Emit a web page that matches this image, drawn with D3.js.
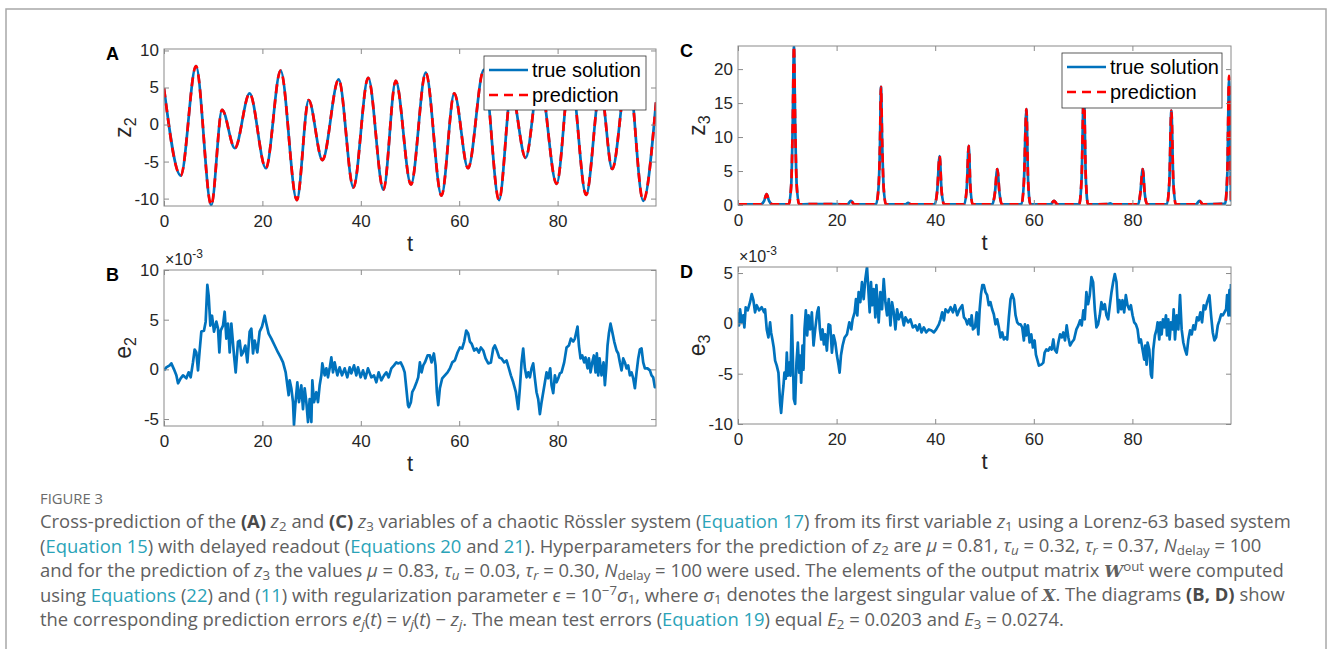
<!DOCTYPE html>
<html><head><meta charset="utf-8">
<script src="https://cdn.jsdelivr.net/npm/d3@7"></script>
<style>body{margin:0;background:#fff}svg{display:block}</style>
</head><body>
<svg id="c" width="1330" height="649"></svg>
<script>
// ---------- data ----------
const tTicks = [0, 20, 40, 60, 80];
const yTicksA = [-10, -5, 0, 5, 10];
const yTicksB = [-5, 0, 5, 10];
const yTicksC = [0, 5, 10, 15, 20];
const yTicksD = [-10, -5, 0, 5];
const legendLabels = ["true solution", "prediction"];

// z2 (panel A): [t, z2] at turning points
const z2True = [[0,4.9],[3.4,-6.9],[6.5,7.9],[9.6,-10.9],[11.8,2.0],[14.4,-3.2],[17.4,4.2],[20.7,-5.9],[23.7,7.3],[27.0,-10.2],[29.4,3.3],[32.2,-4.8],[35.5,6.1],[38.5,-8.5],[41.5,6.3],[44.6,-8.8],[47.1,5.9],[50.2,-8.1],[53.2,7.0],[56.4,-9.6],[59.0,4.2],[61.8,-5.9],[65.0,7.4],[68.1,-10.2],[70.6,4.5],[73.5,-4.5],[76.3,6.5],[79.8,-8.0],[82.6,7.2],[85.8,-9.5],[88.7,5.0],[91.1,-6.0],[94.3,7.6],[97.4,-10.3],[100,3.0]];
const z2Pred = z2True;

// z3 (panel C)
const z3True = [[0,0.1],[4.6,0.1],[5.3,0.6],[5.8,1.6],[6.3,0.6],[7.0,0.1],[10.3,0.1],[10.8,3.0],[11.1,12],[11.35,23.4],[11.6,12],[11.9,3.0],[12.4,0.1],[16.5,0.15],[22.2,0.1],[22.9,0.6],[23.6,0.1],[28.0,0.1],[28.5,2.5],[28.8,9],[29.0,17.4],[29.25,9],[29.55,2.5],[30.0,0.1],[34.0,0.1],[34.5,0.3],[35.0,0.1],[39.9,0.1],[40.4,2.0],[40.9,7.2],[41.3,2.0],[41.8,0.1],[45.9,0.1],[46.4,2.5],[46.8,8.7],[47.15,2.5],[47.6,0.1],[51.6,0.1],[52.1,1.7],[52.6,5.3],[53.05,1.7],[53.5,0.1],[57.5,0.1],[58.0,3.5],[58.5,14.1],[58.85,3.5],[59.3,0.1],[63.4,0.1],[64.1,0.6],[64.8,0.1],[69.2,0.1],[69.7,4.0],[70.15,17.0],[70.55,4.0],[71.0,0.1],[75.0,0.15],[75.5,0.25],[76.0,0.1],[81.2,0.1],[81.6,1.7],[82.1,5.3],[82.5,1.7],[83.0,0.1],[87.0,0.1],[87.5,3.5],[87.9,13.9],[88.3,3.5],[88.8,0.1],[92.9,0.1],[93.6,0.6],[94.3,0.1],[98.8,0.2],[99.25,4.5],[99.6,18.3],[99.8,12],[100,0.5]];
const z3Pred = [[0,0.1],[4.6,0.1],[5.3,0.6],[5.8,1.6],[6.3,0.6],[7.0,0.1],[10.3,0.1],[10.8,3.0],[11.1,12],[11.35,23.4],[11.6,12],[11.9,3.0],[12.4,0.1],[16.5,0.15],[22.2,0.1],[22.9,0.6],[23.6,0.1],[28.0,0.1],[28.5,2.5],[28.8,9],[29.0,17.4],[29.25,9],[29.55,2.5],[30.0,0.1],[34.0,0.1],[34.5,0.3],[35.0,0.1],[39.9,0.1],[40.4,2.0],[40.9,7.2],[41.3,2.0],[41.8,0.1],[45.9,0.1],[46.4,2.5],[46.8,8.7],[47.15,2.5],[47.6,0.1],[51.6,0.1],[52.1,1.7],[52.6,5.3],[53.05,1.7],[53.5,0.1],[57.5,0.1],[58.0,3.5],[58.5,14.1],[58.85,3.5],[59.3,0.1],[63.4,0.1],[64.1,0.6],[64.8,0.1],[69.2,0.1],[69.7,4.0],[70.15,17.0],[70.55,4.0],[71.0,0.1],[75.0,0.15],[75.5,0.25],[76.0,0.1],[81.2,0.1],[81.6,1.7],[82.1,5.3],[82.5,1.7],[83.0,0.1],[87.0,0.1],[87.5,3.5],[87.9,13.9],[88.3,3.5],[88.8,0.1],[92.9,0.1],[93.6,0.6],[94.3,0.1],[98.8,0.2],[99.25,4.5],[99.6,19.0],[99.8,12],[100,0.5]];

// e2 (panel B), units of 1e-3
const e2 = [[0,-0.1],[0.47,0.2],[1.15,0.4],[1.49,0.6],[2.03,0],[2.51,-0.6],[2.85,-1.4],[3.39,-0.9],[3.86,-0.6],[4.54,-0.9],[5.01,-0.3],[5.42,-0.8],[5.89,0.7],[6.23,2.0],[6.57,1.7],[6.91,-0.1],[7.25,1.9],[7.59,3.8],[8.13,3.9],[8.47,4.8],[8.81,8.5],[9.08,7.4],[9.42,4.4],[9.76,5.4],[10.16,3.8],[10.64,4.8],[10.98,4.1],[11.25,1.7],[11.52,3.9],[11.99,4.4],[12.33,5.8],[12.67,3.1],[13.01,4.6],[13.35,1.7],[13.69,4.6],[14.23,1.4],[14.57,-0.3],[15.04,2.8],[15.38,2.9],[15.72,1.4],[16.06,1.7],[16.53,2.4],[16.94,0.7],[17.41,3.8],[17.75,4.1],[18.09,1.6],[18.43,2.9],[18.97,1.7],[19.44,3.8],[19.92,4.3],[20.46,5.4],[20.8,4.6],[21.27,3.6],[21.82,3.1],[22.49,2.4],[23.17,1.7],[23.71,1.2],[24.19,0.7],[24.73,-0.3],[25.07,-1.6],[25.34,-2.6],[25.54,-1.1],[25.88,-1.9],[26.22,-3.3],[26.42,-5.6],[26.69,-3.6],[27.1,-1.3],[27.44,-3.3],[27.91,-1.6],[28.25,-4.0],[28.59,-1.9],[28.93,-3.3],[29.27,-5.3],[29.61,-3.0],[29.95,-5.3],[30.15,-1.1],[30.49,-3.3],[30.96,-2.3],[31.3,-3.3],[31.64,-1.6],[31.98,-0.6],[32.18,0.6],[32.66,-0.6],[32.99,0.1],[33.33,-0.8],[33.67,0.1],[34.01,1.2],[34.35,-0.3],[34.69,0.7],[35.23,-0.6],[35.7,0.2],[36.18,-0.6],[36.72,0.1],[37.26,-0.8],[37.74,0.2],[38.08,-0.4],[38.62,0.4],[39.09,-0.6],[39.43,0.2],[39.97,-0.8],[40.45,-0.1],[40.92,-0.9],[41.46,0.1],[42.14,-0.8],[42.68,-0.6],[43.16,-1.3],[43.63,-0.3],[44.17,-1.1],[44.72,-0.6],[45.19,-0.3],[45.66,-0.8],[46.21,0.1],[46.75,0.4],[47.22,0.7],[47.56,0.6],[48.1,0.7],[48.58,0.2],[48.92,-0.3],[49.25,-1.9],[49.59,-3.6],[49.77,-3.8],[50.18,-3.3],[50.45,-2.3],[50.86,-1.9],[51.33,-1.3],[51.67,-0.8],[52.01,0.7],[52.35,-0.3],[52.69,0.4],[53.03,0.7],[53.57,1.4],[54.04,1.4],[54.38,0.7],[54.85,1.6],[55.19,0.4],[55.46,-2.3],[55.74,-3.6],[56.07,-1.9],[56.55,-0.9],[57.09,-0.6],[57.63,-0.3],[58.11,0.1],[58.58,0.7],[59.12,0.9],[59.66,1.7],[60.14,2.2],[60.61,2.1],[61.02,2.8],[61.43,3.9],[61.83,3.6],[62.17,2.8],[62.51,2.6],[63.05,1.9],[63.53,2.1],[64.0,1.7],[64.41,2.2],[64.88,1.9],[65.36,1.1],[65.9,0.6],[66.44,0.7],[66.91,2.1],[67.25,2.4],[67.66,1.9],[68.13,1.2],[68.61,1.1],[69.15,0.7],[69.62,0.9],[70.1,0.1],[70.5,-0.6],[70.98,-1.3],[71.52,-2.3],[71.99,-4.0],[72.33,-1.9],[72.67,0.7],[73.01,2.1],[73.35,0.1],[73.69,-0.8],[74.03,-0.3],[74.37,-0.8],[74.7,0.1],[75.04,0.6],[75.38,-0.9],[75.72,-2.3],[76.06,-3.0],[76.4,-4.5],[76.74,-3.3],[77.08,-2.3],[77.42,-1.3],[77.75,-0.3],[78.09,-0.9],[78.5,0.1],[78.77,-1.6],[79.11,-2.4],[79.45,-0.6],[79.79,-1.3],[80.13,-0.9],[80.46,-0.4],[80.8,-0.3],[81.34,0.7],[81.82,2.2],[82.29,2.4],[82.7,3.1],[83.17,2.8],[83.51,3.1],[84.05,4.3],[84.33,2.4],[84.66,1.1],[85.0,1.4],[85.41,0.7],[85.68,1.2],[86.09,0.1],[86.36,1.1],[86.7,-0.3],[87.04,0.7],[87.37,1.4],[87.71,-0.3],[87.98,1.6],[88.26,-0.6],[88.53,1.1],[88.93,-0.6],[89.34,0.7],[89.61,-1.6],[89.88,0.1],[90.15,2.4],[90.42,3.6],[90.76,4.6],[91.1,3.8],[91.51,2.8],[91.98,1.9],[92.32,1.6],[92.66,0.7],[93.0,-0.1],[93.34,1.1],[93.68,0.7],[94.01,0.1],[94.35,0.4],[94.69,-0.6],[95.03,-0.3],[95.37,-0.9],[95.71,-1.9],[96.05,-0.3],[96.39,1.1],[96.72,2.0],[97.06,2.1],[97.4,0.7],[97.74,0.1],[98.28,0.1],[98.76,-0.1],[99.09,-0.6],[99.43,-0.8],[99.77,-1.8],[100,-1.8]];

// e3 (panel D), units of 1e-3
const e3 = [[0,1.1],[0.2,-0.2],[0.41,1.4],[0.75,0.1],[1.08,0.8],[1.29,-0.4],[1.56,1.6],[1.97,1.3],[2.44,2.1],[2.78,2.9],[3.12,2.3],[3.46,1.1],[3.8,1.8],[4.27,1.3],[4.81,1.6],[5.29,1.1],[5.49,1.4],[5.83,-0.6],[6.17,-1.4],[6.51,0.1],[6.71,-0.9],[6.98,-1.6],[7.25,-2.4],[7.53,-3.7],[7.86,-4.2],[8.2,-4.9],[8.54,-7.9],[8.75,-8.9],[9.02,-7.2],[9.22,-6.2],[9.42,-4.9],[9.69,-5.5],[9.9,-2.9],[10.1,-5.2],[10.37,-3.9],[10.64,-5.2],[10.92,0.8],[11.12,-3.2],[11.32,-7.5],[11.59,-8.0],[11.86,-3.9],[12.14,-1.9],[12.41,-4.9],[12.61,-3.2],[12.81,-5.9],[13.08,-2.2],[13.29,-4.6],[13.49,-0.6],[13.76,1.3],[14.03,-1.2],[14.31,0.8],[14.64,-0.6],[14.98,1.1],[15.32,-2.2],[15.66,-0.6],[16.07,1.1],[16.34,1.6],[16.61,-0.6],[16.88,-1.6],[17.15,-0.6],[17.42,-2.1],[17.69,-1.1],[18.03,-2.7],[18.37,-0.1],[18.71,-0.2],[19.05,-2.9],[19.39,-1.2],[19.73,-1.9],[20.07,-3.2],[20.41,-4.2],[20.61,-4.9],[20.88,-3.2],[21.22,-2.2],[21.63,-1.4],[22.1,-1.1],[22.58,0.1],[22.98,-0.6],[23.25,0.4],[23.66,1.1],[23.93,2.4],[24.2,0.8],[24.47,3.1],[24.81,2.1],[25.15,4.1],[25.49,2.4],[25.83,4.4],[26.17,5.6],[26.51,2.8],[26.71,1.1],[26.98,4.1],[27.19,1.8],[27.53,3.4],[27.86,0.6],[28.07,3.8],[28.34,1.8],[28.54,0.1],[28.88,3.1],[29.22,1.4],[29.56,4.4],[29.9,2.1],[30.24,0.8],[30.58,2.4],[30.92,-0.2],[31.25,2.1],[31.59,1.1],[31.93,-0.6],[32.27,1.4],[32.61,0.4],[33.15,1.1],[33.63,-0.2],[33.97,0.6],[34.51,0.1],[34.98,0.4],[35.46,-0.4],[36.0,-0.2],[36.41,-0.7],[36.81,-0.1],[37.22,-0.9],[37.69,-0.4],[38.17,-0.9],[38.71,-0.6],[39.25,-0.7],[39.73,-0.9],[40.2,-0.6],[40.75,-0.1],[41.08,0.4],[41.42,1.1],[41.76,0.3],[42.1,1.4],[42.64,1.1],[43.12,1.6],[43.59,1.1],[44.0,1.8],[44.47,0.8],[44.95,1.4],[45.49,1.8],[45.83,0.6],[46.17,0.4],[46.51,-0.1],[46.85,0.4],[47.19,-0.2],[47.39,0.8],[47.66,-0.6],[48.07,-0.4],[48.41,1.1],[48.75,-1.1],[49.02,1.4],[49.29,2.9],[49.56,3.8],[49.86,3.8],[50.2,3.1],[50.54,2.8],[50.87,1.8],[51.21,2.1],[51.55,1.4],[51.89,0.9],[52.23,-0.1],[52.57,0.4],[52.91,-0.4],[53.25,-1.4],[53.59,-0.9],[53.93,-1.6],[54.26,-1.4],[54.6,-1.6],[54.94,0.6],[55.28,2.4],[55.62,2.9],[55.96,2.4],[56.3,0.8],[56.64,0.1],[56.98,-0.1],[57.32,-0.1],[57.65,-0.4],[57.99,-1.7],[58.2,-0.1],[58.47,-1.2],[58.81,-0.2],[59.15,-1.9],[59.49,-1.1],[59.82,-2.4],[60.16,-1.7],[60.43,-3.1],[60.71,-3.6],[61.04,-4.2],[61.52,-4.1],[61.93,-3.9],[62.2,-2.9],[62.54,-2.6],[62.94,-2.7],[63.28,-2.4],[63.62,-2.6],[63.96,-1.6],[64.23,-2.6],[64.64,-2.9],[64.98,-1.9],[65.32,-1.1],[65.65,-1.4],[65.99,-0.9],[66.33,-1.7],[66.67,-0.2],[67.01,-1.4],[67.35,-2.2],[67.69,-1.9],[68.16,-1.6],[68.64,-0.6],[69.04,-0.2],[69.38,0.3],[69.72,-0.2],[70.06,1.3],[70.33,0.4],[70.67,3.1],[71.01,1.9],[71.35,2.8],[71.69,4.6],[72.03,4.1],[72.37,1.4],[72.71,-0.4],[73.04,-0.1],[73.38,0.8],[73.72,2.1],[74.06,1.4],[74.4,1.9],[74.74,0.8],[75.08,0.4],[75.42,1.8],[75.76,3.1],[76.1,4.1],[76.43,4.9],[76.77,4.1],[77.11,1.1],[77.38,2.3],[77.72,1.4],[77.99,2.3],[78.33,1.1],[78.67,2.8],[79.01,1.8],[79.35,1.4],[79.69,1.8],[80.03,0.8],[80.37,0.1],[80.71,-0.1],[81.05,-0.6],[81.38,-1.9],[81.72,-1.6],[82.06,-2.6],[82.4,-3.6],[82.6,-2.2],[82.88,-4.1],[83.08,-1.9],[83.42,-2.6],[83.76,-5.1],[83.96,-5.4],[84.23,-2.6],[84.57,-1.2],[84.91,-0.6],[85.11,0.1],[85.45,-1.6],[85.66,0.1],[85.93,-1.1],[86.2,0.4],[86.47,-0.4],[86.81,0.8],[87.01,-1.2],[87.28,0.4],[87.55,-1.6],[87.82,0.1],[88.16,-0.6],[88.37,1.4],[88.64,-1.6],[88.98,0.8],[89.32,-0.6],[89.66,2.8],[89.99,-0.6],[90.33,-1.9],[90.67,-2.6],[91.01,-3.1],[91.35,-1.6],[91.69,-0.7],[92.03,-1.1],[92.37,-0.2],[92.71,-0.6],[93.11,0.6],[93.45,0.3],[93.79,1.1],[94.13,0.1],[94.47,1.8],[94.81,1.4],[95.15,2.1],[95.62,2.8],[95.96,0.8],[96.3,-0.9],[96.64,-1.7],[96.98,-1.4],[97.32,-0.2],[97.66,0.3],[98.0,0.9],[98.34,0.8],[98.67,1.1],[99.01,1.4],[99.21,2.8],[99.49,0.8],[99.69,3.3],[99.89,0.8],[100,3.9]];

// caption (segments: n normal, b bold, i italic, l link, sub/subi subscript, sup superscript, bs bold serif)
const figLabel = "FIGURE 3";
const captionLines = [
 [["n","Cross-prediction of the "],["b","(A)"],["n"," "],["i","z"],["sub","2"],["n"," and "],["b","(C)"],["n"," "],["i","z"],["sub","3"],["n"," variables of a chaotic Rössler system ("],["l","Equation 17"],["n",") from its first variable "],["i","z"],["sub","1"],["n"," using a Lorenz-63 based system"]],
 [["n","("],["l","Equation 15"],["n",") with delayed readout ("],["l","Equations 20"],["n"," and "],["l","21"],["n","). Hyperparameters for the prediction of "],["i","z"],["sub","2"],["n"," are "],["i","μ"],["n"," = 0.81, "],["i","τ"],["subi","u"],["n"," = 0.32, "],["i","τ"],["subi","r"],["n"," = 0.37, "],["i","N"],["sub","delay"],["n"," = 100"]],
 [["n","and for the prediction of "],["i","z"],["sub","3"],["n"," the values "],["i","μ"],["n"," = 0.83, "],["i","τ"],["subi","u"],["n"," = 0.03, "],["i","τ"],["subi","r"],["n"," = 0.30, "],["i","N"],["sub","delay"],["n"," = 100 were used. The elements of the output matrix "],["bs","W"],["sup","out"],["n"," were computed"]],
 [["n","using "],["l","Equations"],["n"," ("],["l","22"],["n",") and ("],["l","11"],["n",") with regularization parameter "],["i","ϵ"],["n"," = 10"],["sup","−7"],["i","σ"],["sub","1"],["n",", where "],["i","σ"],["sub","1"],["n"," denotes the largest singular value of "],["bs","X"],["n",". The diagrams "],["b","(B, D)"],["n"," show"]],
 [["n","the corresponding prediction errors "],["i","e"],["subi","j"],["n","("],["i","t"],["n",") = "],["i","v"],["subi","j"],["n","("],["i","t"],["n",") − "],["i","z"],["subi","j"],["n",". The mean test errors ("],["l","Equation 19"],["n",") equal "],["i","E"],["sub","2"],["n"," = 0.0203 and "],["i","E"],["sub","3"],["n"," = 0.0274."]]
];

// ---------- drawing ----------
const svg = d3.select("#c");
const BLUE = "#0072BD", RED = "#FF0000", FONT = "'Liberation Sans', Arial, Helvetica, sans-serif";
const TEXTC = "#262626", AXC = "#8a8a8a";

svg.append("rect").attr("x", 6).attr("y", 9).attr("width", 1320).attr("height", 700)
  .attr("fill", "none").attr("stroke", "#a8a8a8").attr("stroke-width", 1.5);

let clipId = 0;
function panel(c) {
  const x = d3.scaleLinear().domain([0, 100]).range([c.x0, c.x1]);
  const y = d3.scaleLinear().domain(c.ydom).range([c.y1, c.y0]);
  const g = svg.append("g");
  const id = "clip" + (clipId++);
  g.append("clipPath").attr("id", id).append("rect")
    .attr("x", c.x0).attr("y", c.y0).attr("width", c.x1 - c.x0).attr("height", c.y1 - c.y0);
  const plot = g.append("g").attr("clip-path", `url(#${id})`);
  c.series.forEach(s => {
    const line = d3.line().x(d => x(d[0])).y(d => y(d[1])).curve(s.curve || d3.curveLinear);
    plot.append("path").attr("d", line(s.data)).attr("fill", "none")
      .attr("stroke", s.color).attr("stroke-width", 2.7)
      .attr("stroke-dasharray", s.dash || null).attr("stroke-linejoin", "round");
  });
  const styleAxis = (sel, labels) => {
    sel.select(".domain").remove();
    sel.selectAll(".tick line").attr("stroke", AXC).attr("stroke-width", 1);
    sel.selectAll(".tick text").attr("fill", TEXTC).attr("font-family", FONT).attr("font-size", 17);
    if (!labels) sel.selectAll(".tick text").remove();
  };
  const fmt = d => String(d);
  g.append("g").attr("transform", `translate(0,${c.y1})`)
    .call(d3.axisBottom(x).tickValues(tTicks).tickSizeInner(-5).tickSizeOuter(0).tickPadding(9).tickFormat(fmt))
    .call(s => styleAxis(s, true));
  g.append("g").attr("transform", `translate(0,${c.y0})`)
    .call(d3.axisTop(x).tickValues(tTicks).tickSizeInner(-5).tickSizeOuter(0))
    .call(s => styleAxis(s, false));
  g.append("g").attr("transform", `translate(${c.x0},0)`)
    .call(d3.axisLeft(y).tickValues(c.yticks).tickSizeInner(-5).tickSizeOuter(0).tickPadding(5).tickFormat(fmt))
    .call(s => styleAxis(s, true));
  g.append("g").attr("transform", `translate(${c.x1},0)`)
    .call(d3.axisRight(y).tickValues(c.yticks).tickSizeInner(-5).tickSizeOuter(0))
    .call(s => styleAxis(s, false));
  g.append("rect").attr("x", c.x0).attr("y", c.y0).attr("width", c.x1 - c.x0).attr("height", c.y1 - c.y0)
    .attr("fill", "none").attr("stroke", AXC).attr("stroke-width", 1);

  // x label
  g.append("text").attr("x", (c.x0 + c.x1) / 2).attr("y", c.y1 + 45).attr("text-anchor", "middle")
    .attr("font-family", FONT).attr("font-size", 22).attr("fill", TEXTC).text("t");
  // y label
  const yl = g.append("text").attr("transform", `translate(${c.ylx},${(c.y0 + c.y1) / 2}) rotate(-90)`)
    .attr("text-anchor", "middle").attr("font-family", FONT).attr("font-size", 23).attr("fill", TEXTC);
  yl.append("tspan").text(c.ylab[0]);
  yl.append("tspan").attr("font-size", 16).attr("dy", 5).text(c.ylab[1]);
  // panel letter
  g.append("text").attr("x", c.x0 - 58).attr("y", c.y0 + 11).attr("font-family", FONT)
    .attr("font-weight", "bold").attr("font-size", 18).attr("fill", "#000").text(c.letter);
  // exponent
  if (c.exp) {
    const ex = g.append("text").attr("x", c.x0 + 1).attr("y", c.y0 - 5).attr("font-family", FONT)
      .attr("font-size", 16).attr("fill", TEXTC);
    ex.append("tspan").text("×10");
    ex.append("tspan").attr("font-size", 12).attr("dy", -7).text("-3");
  }
  // legend
  if (c.legend) {
    const L = c.legend;
    g.append("rect").attr("x", L.x).attr("y", L.y).attr("width", L.w).attr("height", L.h)
      .attr("fill", "#fff").attr("stroke", "#333").attr("stroke-width", 0.8);
    c.series.forEach((s, i) => {
      const yy = L.y + 14 + i * 25;
      g.append("line").attr("x1", L.x + 5).attr("x2", L.x + 44).attr("y1", yy).attr("y2", yy)
        .attr("stroke", s.color).attr("stroke-width", 2.7).attr("stroke-dasharray", s.dash || null);
      g.append("text").attr("x", L.x + 48).attr("y", yy).attr("dy", "0.35em").attr("font-family", FONT)
        .attr("font-size", 20).attr("fill", "#000").text(legendLabels[i]);
    });
  }
}

panel({x0:164, x1:656, y0:49, y1:206, ydom:[-11, 10.2], yticks:yTicksA, letter:"A", ylab:["z","2"], ylx:131,
  series:[{data:z2True, color:BLUE, curve:d3.curveMonotoneX},{data:z2Pred, color:RED, dash:"9,6", curve:d3.curveMonotoneX}],
  legend:{x:484, y:56, w:162, h:54}});
panel({x0:164, x1:656, y0:270, y1:426, ydom:[-5.7, 10], yticks:yTicksB, letter:"B", ylab:["e","2"], ylx:131, exp:true,
  series:[{data:e2, color:BLUE}]});
panel({x0:738, x1:1231, y0:46, y1:205, ydom:[0, 23.4], yticks:yTicksC, letter:"C", ylab:["z","3"], ylx:705,
  series:[{data:z3True, color:BLUE, curve:d3.curveMonotoneX},{data:z3Pred, color:RED, dash:"9,6", curve:d3.curveMonotoneX}],
  legend:{x:1062, y:53, w:160, h:55}});
panel({x0:738, x1:1231, y0:267, y1:424, ydom:[-10, 5.6], yticks:yTicksD, letter:"D", ylab:["e","3"], ylx:705, exp:true,
  series:[{data:e3, color:BLUE}]});

// caption
const CAPF = "'Open Sans', Lato, sans-serif";
const fl = svg.append("text").attr("x", 40).attr("y", 504).attr("font-family", CAPF).attr("font-size", 14)
  .attr("fill", "#6b6b6b").text(figLabel);
const flw = fl.node().getComputedTextLength();
if (flw > 0) fl.attr("font-size", Math.max(12, Math.min(16, 14 * 63 / flw)));
const targets = [1248, 1222, 1256, 1240];
const baselines = [528, 552.5, 577, 601.5, 626];
const capTexts = captionLines.map((segs, li) => {
  const t = svg.append("text").attr("x", 40).attr("y", baselines[li]).attr("font-family", CAPF)
    .attr("font-size", 17).attr("fill", "#606060");
  let shift = 0; // current baseline offset (parent em)
  segs.forEach(([k, s]) => {
    const sp = t.append("tspan").text(s);
    let ns = 0;
    const small = (k === "sub" || k === "subi" || k === "sup");
    if (k === "sub" || k === "subi") { sp.attr("font-size", "0.72em"); ns = 0.16; }
    if (k === "sup") { sp.attr("font-size", "0.72em"); ns = -0.34; }
    const d = ns - shift;
    if (d !== 0) sp.attr("dy", small ? (d / 0.72).toFixed(3) + "em" : d.toFixed(3) + "em");
    shift = ns;
    if (k === "i" || k === "subi") sp.attr("font-style", "italic");
    if (k === "b") sp.attr("font-weight", 700).attr("fill", "#4a4a4a");
    if (k === "l") sp.attr("fill", "#2aa3b8");
    if (k === "bs") sp.attr("font-family", "'DejaVu Serif', serif").attr("font-weight", "bold").attr("font-style", "italic").attr("font-size", "0.92em");
  });
  return t;
});
// one common size so that the first four lines fill their measured widths on average
let ratios = [];
capTexts.slice(0, 4).forEach((t, i) => {
  const w = t.node().getComputedTextLength();
  if (w > 0) ratios.push(targets[i] / w);
});
if (ratios.length) {
  const r = d3.mean(ratios);
  const f = Math.max(14, Math.min(21, 17 * r));
  capTexts.forEach(t => t.attr("font-size", f));
}
</script>
</body></html>
